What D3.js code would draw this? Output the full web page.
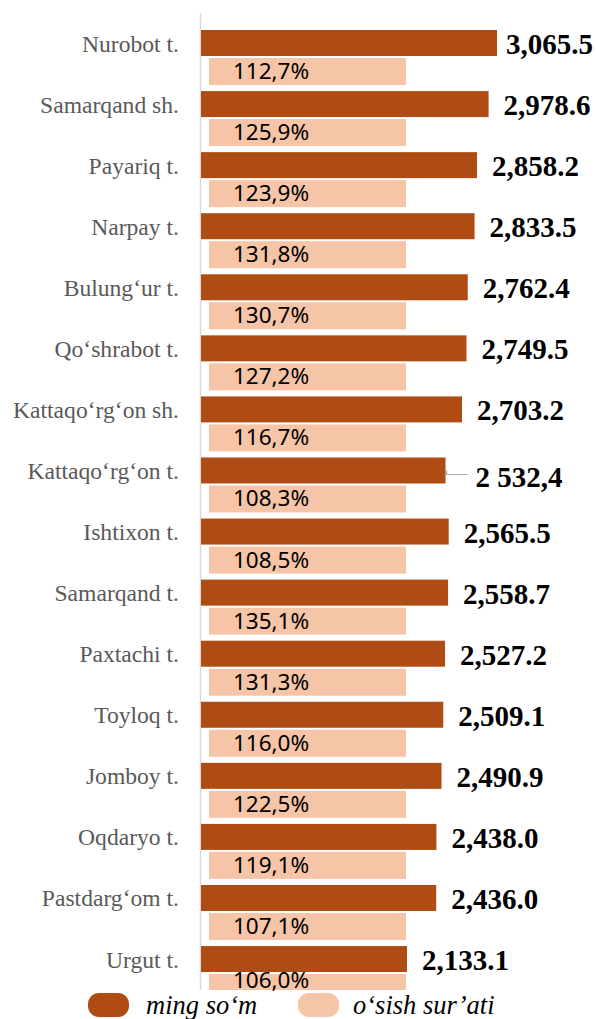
<!DOCTYPE html>
<html>
<head>
<meta charset="utf-8">
<script src="https://cdn.jsdelivr.net/npm/d3@7/dist/d3.min.js"></script>
<style>
  html, body { margin: 0; padding: 0; background: #fff; }
  svg { display: block; }
  .serif { font-family: "Liberation Serif", Tinos, "Times New Roman", serif; }
  .sans { font-family: "Noto Sans", "Open Sans", sans-serif; }
</style>
</head>
<body>
<svg id="chart" width="596" height="1019"></svg>
<script>
// Districts, top to bottom
const categories = [
  "Nurobot t.", "Samarqand sh.", "Payariq t.", "Narpay t.", "Bulung‘ur t.",
  "Qo‘shrabot t.", "Kattaqo‘rg‘on sh.", "Kattaqo‘rg‘on t.", "Ishtixon t.",
  "Samarqand t.", "Paxtachi t.", "Toyloq t.", "Jomboy t.", "Oqdaryo t.",
  "Pastdarg‘om t.", "Urgut t."
];
// Amount, thousand so'm
const amounts = [
  3065.5, 2978.6, 2858.2, 2833.5, 2762.4, 2749.5, 2703.2, 2532.4,
  2565.5, 2558.7, 2527.2, 2509.1, 2490.9, 2438.0, 2436.0, 2133.1
];
// Growth rate, %
const growth = [
  112.7, 125.9, 123.9, 131.8, 130.7, 127.2, 116.7, 108.3,
  108.5, 135.1, 131.3, 116.0, 122.5, 119.1, 107.1, 106.0
];
// Value label texts (one is written in a different number format)
const amountLabels = [
  "3,065.5", "2,978.6", "2,858.2", "2,833.5", "2,762.4", "2,749.5", "2,703.2", "2 532,4",
  "2,565.5", "2,558.7", "2,527.2", "2,509.1", "2,490.9", "2,438.0", "2,436.0", "2,133.1"
];
const seriesNames = ["ming so‘m", "o‘sish sur’ati"];

const DARK = "#AE4C13";
const LIGHT = "#F6C4A6";

const svg = d3.select("#chart");

const x = d3.scaleLinear().domain([0, d3.max(amounts)]).range([201, 497]);
// growth bars are drawn as a full-width band behind each growth label
const xg = d3.scaleLinear().domain([0, 100]).range([209, 406]);
const y = d3.scaleBand().domain(categories).range([30, 30 + 16 * 61.07]).padding(0);

const rows = categories.map((c, i) => ({
  cat: c, amount: amounts[i], growth: growth[i], label: amountLabels[i]
}));

svg.append("defs").append("clipPath").attr("id", "plot")
  .append("rect").attr("x", 0).attr("y", 0).attr("width", 596).attr("height", 990);

const plot = svg.append("g").attr("clip-path", "url(#plot)");

// axis line
plot.append("line")
  .attr("x1", 200.5).attr("x2", 200.5).attr("y1", 13).attr("y2", 990)
  .attr("stroke", "#D9D9D9").attr("stroke-width", 1.5);

// amount bars
plot.selectAll("rect.amt").data(rows).join("rect")
  .attr("class", "amt")
  .attr("x", x(0))
  .attr("y", d => y(d.cat))
  .attr("width", d => x(d.amount) - x(0))
  .attr("height", 26)
  .attr("fill", DARK);

// growth bars
plot.selectAll("rect.gr").data(rows).join("rect")
  .attr("class", "gr")
  .attr("x", xg(0))
  .attr("y", d => y(d.cat) + 28)
  .attr("width", xg(100) - xg(0))
  .attr("height", 27)
  .attr("fill", LIGHT);

// growth labels
svg.selectAll("text.gr").data(rows).join("text")
  .attr("class", "gr sans")
  .attr("x", 271)
  .attr("y", d => Math.min(y(d.cat) + 49, 988))
  .attr("text-anchor", "middle")
  .attr("font-size", 22.5)
  .attr("fill", "#000")
  .text(d => d3.format(".1f")(d.growth).replace(".", ",") + "%");

// category labels
svg.selectAll("text.cat").data(rows).join("text")
  .attr("class", "cat serif")
  .attr("x", 179)
  .attr("y", d => y(d.cat) + 21.5)
  .attr("text-anchor", "end")
  .attr("font-size", 23.6)
  .attr("fill", "#595959")
  .text(d => d.cat);

// amount labels
const special = "2 532,4";
const vl = svg.selectAll("text.val").data(rows).join("text")
  .attr("class", "val serif")
  .attr("x", d => d.label === special ? x(d.amount) + 30 : x(d.amount) + 15)
  .attr("y", d => y(d.cat) + (d.label === special ? 30 : 24))
  .attr("font-weight", "bold")
  .attr("font-size", 29)
  .attr("fill", "#000")
  .text(d => d.label);

// keep labels inside the right edge
vl.each(function() {
  const t = d3.select(this);
  const w = this.getComputedTextLength();
  const x0 = +t.attr("x");
  if (x0 + w > 593) t.attr("x", 593 - w);
});

// leader line for the moved label
rows.filter(d => d.label === special).forEach(d => {
  const y0 = y(d.cat);
  svg.append("polyline")
    .attr("points", `${x(d.amount) + 1},${y0 + 13} ${x(d.amount) + 1},${y0 + 17} ${x(d.amount) + 22},${y0 + 17}`)
    .attr("fill", "none").attr("stroke", "#A6A6A6").attr("stroke-width", 1.2);
});

// legend
const legend = svg.append("g");
const items = [
  { name: seriesNames[0], color: DARK, sx: 88, tx: 146 },
  { name: seriesNames[1], color: LIGHT, sx: 298, tx: 353 }
];
items.forEach(it => {
  legend.append("rect")
    .attr("x", it.sx).attr("y", 993).attr("width", 41).attr("height", 24)
    .attr("rx", 11).attr("ry", 11).attr("fill", it.color);
  legend.append("text")
    .attr("class", "serif")
    .attr("x", it.tx).attr("y", 1014)
    .attr("font-style", "italic").attr("font-size", 26.5)
    .attr("fill", "#000")
    .text(it.name);
});
</script>
</body>
</html>
